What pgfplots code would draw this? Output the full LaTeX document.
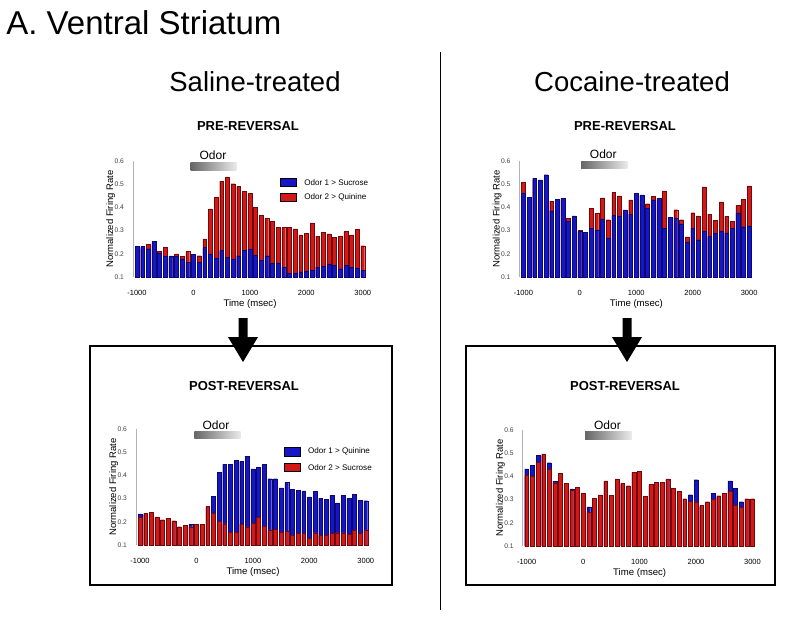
\documentclass[border=0pt]{standalone}
\usepackage{pgfplots}
\pgfplotsset{compat=1.18}
\usepackage{pgfplotstable}
\usepackage{fontspec}
\setmainfont{Liberation Sans}
\definecolor{bbar}{RGB}{22,22,200}
\definecolor{bedge}{RGB}{10,10,110}
\definecolor{rbar}{RGB}{212,24,24}
\definecolor{redge}{RGB}{110,10,10}

\pgfplotstableread{
x b r
-1000 0.233 0.225
-900 0.231 0.222
-800 0.222 0.241
-700 0.253 0.240
-600 0.204 0.210
-500 0.189 0.228
-400 0.191 0.185
-300 0.190 0.200
-200 0.179 0.188
-100 0.163 0.210
0 0.197 0.190
100 0.163 0.192
200 0.228 0.264
300 0.200 0.394
400 0.181 0.443
500 0.214 0.512
600 0.186 0.532
700 0.178 0.502
800 0.192 0.490
900 0.214 0.470
1000 0.221 0.460
1100 0.195 0.400
1200 0.171 0.365
1300 0.192 0.354
1400 0.159 0.339
1500 0.158 0.313
1600 0.143 0.313
1700 0.117 0.313
1800 0.117 0.307
1900 0.123 0.282
2000 0.126 0.287
2100 0.129 0.333
2200 0.143 0.276
2300 0.145 0.292
2400 0.157 0.286
2500 0.149 0.270
2600 0.136 0.274
2700 0.149 0.296
2800 0.142 0.282
2900 0.139 0.305
3000 0.129 0.235
}\tabA

\pgfplotstableread{
x b r
-1000 0.461 0.507
-900 0.444 0.440
-800 0.526 0.520
-700 0.519 0.510
-600 0.541 0.530
-500 0.386 0.427
-400 0.436 0.430
-300 0.439 0.430
-200 0.340 0.354
-100 0.363 0.360
0 0.296 0.300
100 0.293 0.290
200 0.309 0.397
300 0.303 0.374
400 0.351 0.441
500 0.269 0.347
600 0.366 0.464
700 0.364 0.450
800 0.389 0.380
900 0.371 0.433
1000 0.461 0.450
1100 0.454 0.450
1200 0.396 0.416
1300 0.433 0.449
1400 0.440 0.430
1500 0.309 0.471
1600 0.357 0.350
1700 0.354 0.390
1800 0.329 0.347
1900 0.251 0.273
2000 0.311 0.377
2100 0.261 0.364
2200 0.297 0.489
2300 0.274 0.371
2400 0.289 0.344
2500 0.299 0.424
2600 0.290 0.361
2700 0.309 0.339
2800 0.377 0.410
2900 0.317 0.434
3000 0.319 0.493
}\tabB

\pgfplotstableread{
x b r
-1000 0.234 0.219
-900 0.230 0.236
-800 0.235 0.241
-700 0.215 0.221
-600 0.205 0.209
-500 0.210 0.215
-400 0.200 0.205
-300 0.175 0.179
-200 0.180 0.186
-100 0.190 0.179
0 0.185 0.190
100 0.183 0.188
200 0.260 0.268
300 0.311 0.236
400 0.413 0.203
500 0.448 0.192
600 0.448 0.155
700 0.466 0.155
800 0.461 0.190
900 0.481 0.179
1000 0.428 0.193
1100 0.435 0.218
1200 0.448 0.182
1300 0.386 0.165
1400 0.386 0.168
1500 0.346 0.156
1600 0.369 0.160
1700 0.341 0.142
1800 0.337 0.150
1900 0.333 0.150
2000 0.307 0.129
2100 0.331 0.153
2200 0.301 0.142
2300 0.298 0.142
2400 0.314 0.150
2500 0.282 0.153
2600 0.315 0.153
2700 0.301 0.147
2800 0.318 0.165
2900 0.294 0.150
3000 0.291 0.165
}\tabC

\pgfplotstableread{
x b r
-1000 0.433 0.404
-900 0.447 0.400
-800 0.490 0.460
-700 0.490 0.497
-600 0.459 0.433
-500 0.380 0.373
-400 0.410 0.414
-300 0.365 0.371
-200 0.346 0.340
-100 0.350 0.354
0 0.320 0.326
100 0.269 0.246
200 0.300 0.306
300 0.315 0.320
400 0.375 0.381
500 0.315 0.319
600 0.385 0.389
700 0.365 0.371
800 0.355 0.360
900 0.415 0.419
1000 0.415 0.421
1100 0.310 0.314
1200 0.360 0.367
1300 0.370 0.374
1400 0.370 0.374
1500 0.385 0.389
1600 0.345 0.350
1700 0.330 0.336
1800 0.300 0.304
1900 0.321 0.293
2000 0.386 0.291
2100 0.270 0.274
2200 0.285 0.291
2300 0.326 0.300
2400 0.310 0.317
2500 0.320 0.326
2600 0.381 0.337
2700 0.350 0.274
2800 0.291 0.267
2900 0.300 0.304
3000 0.300 0.304
}\tabD

\pgfplotsset{
  panel/.style={
    scale only axis, width=117pt, height=58pt,
    xmin=-1070, xmax=3075, ymin=0.1, ymax=0.6,
    enlargelimits=false,
    axis lines=left, axis line style={-},
    x axis line style={draw=none},
    y axis line style={draw=gray!60, line width=0.4pt},
    xtick={-1000,0,1000,2000,3000},
    xticklabels={-1000,0,1000,2000,3000},
    ytick={0.1,0.2,0.3,0.4,0.5,0.6},
    yticklabels={0.1,0.2,0.3,0.4,0.5,0.6},
    major tick length=0pt,
    xticklabel style={font=\fontsize{3.75}{4}\selectfont, yshift=-3pt},
    yticklabel style={font=\fontsize{3.35}{4}\selectfont, xshift=-1pt, text=black!75},
    xlabel={Time (msec)}, ylabel={Normalized Firing Rate},
    every axis x label/.style={at={(axis description cs:0.5,-0.235)}, anchor=center, font=\fontsize{4.8}{5.5}\selectfont},
    every axis y label/.style={at={(axis description cs:-0.095,0.5)}, rotate=90, anchor=center, font=\fontsize{4.75}{5.5}\selectfont},
  },
  bbars/.style={ybar, bar width=68, bar shift=0pt, fill=bbar, draw=bedge, line width=0.15pt},
  rbars/.style={ybar, bar width=68, bar shift=0pt, fill=rbar, draw=redge, line width=0.15pt},
}

\begin{document}
\begin{tikzpicture}
\path[use as bounding box] (0,0) rectangle (400pt,-309pt);

% Panel 1: saline pre-reversal
\begin{axis}[panel, at={(66.5pt,-138.5pt)}, anchor=south west]
\addplot[rbars] table[x=x,y=r] {\tabA};
\addplot[bbars] table[x=x,y=b] {\tabA};
\end{axis}

% Panel 2: cocaine pre-reversal
\begin{axis}[panel, at={(259.7pt,-138.5pt)}, anchor=south west]
\addplot[rbars] table[x=x,y=r] {\tabB};
\addplot[bbars] table[x=x,y=b] {\tabB};
\end{axis}

% Panel 3: saline post-reversal
\begin{axis}[panel, at={(68pt,-272.5pt)}, anchor=south west]
\addplot[bbars] table[x=x,y=b] {\tabC};
\addplot[rbars] table[x=x,y=r] {\tabC};
\end{axis}

% Panel 4: cocaine post-reversal
\begin{axis}[panel, at={(261.35pt,-273pt)}, anchor=south west]
\addplot[bbars] table[x=x,y=b] {\tabD};
\addplot[rbars] table[x=x,y=r] {\tabD};
\end{axis}

\begin{scope}[x=0.5pt, y=-0.5pt]
% titles
\node[anchor=base west, inner sep=0pt, font=\fontsize{16.5}{18}\selectfont] at (6,34) {A. Ventral Striatum};
\node[anchor=base, inner sep=0pt, font=\fontsize{13.75}{15}\selectfont] at (255,91) {Saline-treated};
\node[anchor=base, inner sep=0pt, font=\fontsize{13.75}{15}\selectfont] at (632,91) {Cocaine-treated};
\node[anchor=base, inner sep=0pt, font=\bfseries\fontsize{6.5}{7}\selectfont] at (248,130) {PRE-REVERSAL};
\node[anchor=base, inner sep=0pt, font=\bfseries\fontsize{6.5}{7}\selectfont] at (625,130) {PRE-REVERSAL};
\node[anchor=base, inner sep=0pt, font=\bfseries\fontsize{6.5}{7}\selectfont] at (244,390) {POST-REVERSAL};
\node[anchor=base, inner sep=0pt, font=\bfseries\fontsize{6.5}{7}\selectfont] at (625,390) {POST-REVERSAL};
% divider
\draw[line width=0.5pt] (440,52) -- (440,610);
% boxes
\draw[line width=0.6pt] (90,346) rectangle (392,585);
\draw[line width=0.6pt] (466,346) rectangle (775,585);
% arrows
\fill (238.5,318) -- (247.5,318) -- (247.5,337) -- (258,337) -- (243,362) -- (228,337) -- (238.5,337) -- cycle;
\fill (622.5,318) -- (631.5,318) -- (631.5,337) -- (642,337) -- (627,362) -- (612,337) -- (622.5,337) -- cycle;
% odor bars
\shade[left color=black!60, right color=black!8] (190.7,162.7) rectangle (236.7,170);
\node[anchor=base, inner sep=0pt, font=\fontsize{6}{7}\selectfont] at (213,159.3) {Odor};
\shade[left color=black!60, right color=black!8] (581,161.7) rectangle (627.7,168.3);
\node[anchor=base, inner sep=0pt, font=\fontsize{6}{7}\selectfont] at (603.3,158.3) {Odor};
\shade[left color=black!60, right color=black!8] (194.3,431) rectangle (240.7,438.7);
\node[anchor=base, inner sep=0pt, font=\fontsize{6}{7}\selectfont] at (216,429.3) {Odor};
\shade[left color=black!60, right color=black!8] (585,431.7) rectangle (631.7,439);
\node[anchor=base, inner sep=0pt, font=\fontsize{6}{7}\selectfont] at (607.5,429) {Odor};
% legends
\filldraw[fill=bbar, draw=black, line width=0.5pt] (280.7,178.3) rectangle (296.7,186.7);
\filldraw[fill=rbar, draw=black, line width=0.5pt] (280.7,193.3) rectangle (296.7,201.7);
\node[anchor=west, inner sep=0pt, font=\fontsize{4.05}{5}\selectfont] at (304,182.5) {Odor 1 > Sucrose};
\node[anchor=west, inner sep=0pt, font=\fontsize{4.05}{5}\selectfont] at (304,197.5) {Odor 2 > Quinine};
\filldraw[fill=bbar, draw=black, line width=0.5pt] (284.3,447.7) rectangle (300.7,456);
\filldraw[fill=rbar, draw=black, line width=0.5pt] (284.3,463.3) rectangle (300.7,471.7);
\node[anchor=west, inner sep=0pt, font=\fontsize{4.05}{5}\selectfont] at (307.7,451.8) {Odor 1 > Quinine};
\node[anchor=west, inner sep=0pt, font=\fontsize{4.05}{5}\selectfont] at (307.7,467.5) {Odor 2 > Sucrose};
\end{scope}
\end{tikzpicture}
\end{document}
